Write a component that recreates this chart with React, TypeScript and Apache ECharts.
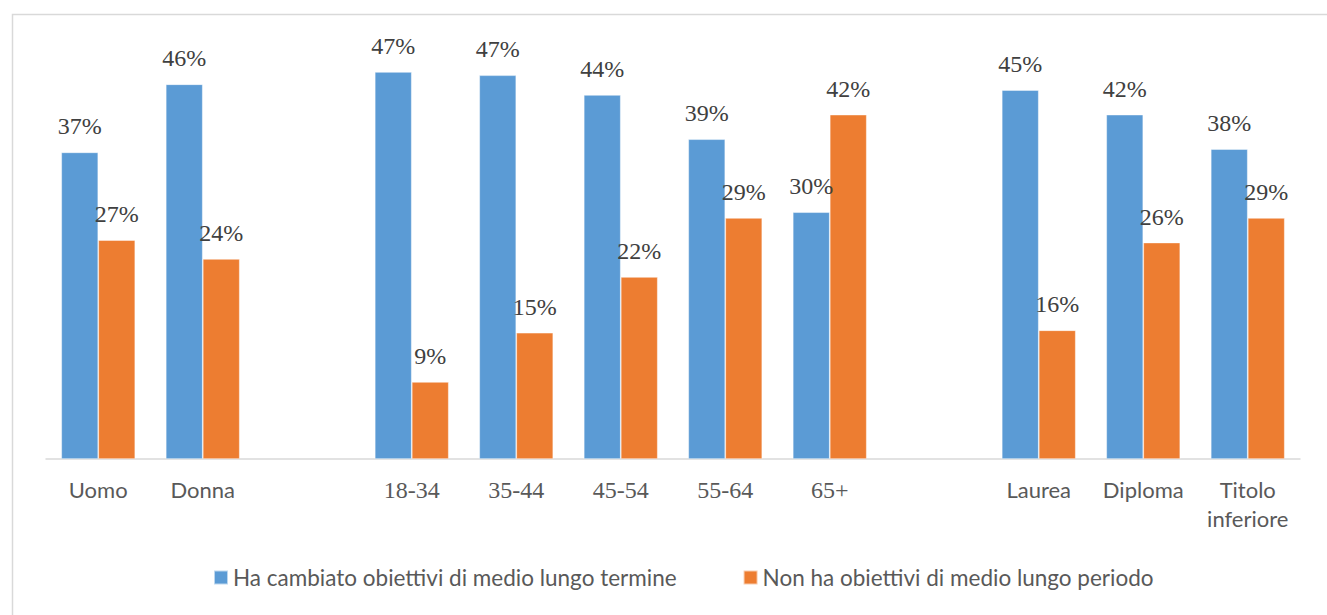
import React, { useEffect, useRef } from "react";
import * as echarts from "echarts";

const categories = ["Uomo", "Donna", "", "18-34", "35-44", "45-54", "55-64", "65+", " ", "Laurea", "Diploma", "Titolo\ninferiore"];
const serifCats = ["18-34", "35-44", "45-54", "55-64", "65+"];
const seriesNames = ["Ha cambiato obiettivi di medio lungo termine", "Non ha obiettivi di medio lungo periodo"];
const changedGoals: (number | string)[] = [37.4, 45.7, "-", 47.2, 46.8, 44.4, 39.0, 30.1, "-", 45.0, 42.0, 37.8];
const noGoals: (number | string)[] = [26.7, 24.4, "-", 9.4, 15.4, 22.2, 29.4, 42.0, "-", 15.7, 26.4, 29.4];
const colors = ["#5B9BD5", "#ED7D31"];

const SERIF = "'Liberation Serif', 'Times New Roman', serif";

export default function App() {
  const ref = useRef<HTMLDivElement>(null);
  useEffect(() => {
    const chart = echarts.init(ref.current!, undefined, { renderer: "svg" });
    const makeLabel = () => ({
      show: true,
      position: "top" as const,
      distance: 14,
      formatter: (p: any) => "{v|" + Math.round(p.value) + "%}",
      rich: {
        v: { color: "#404040", fontFamily: SERIF, fontSize: 24 },
      },
    });
    chart.setOption({
      animation: false,
      backgroundColor: "#fff",
      graphic: [
        {
          type: "rect",
          shape: { x: 12.5, y: 14.5, width: 2000, height: 2000 },
          style: { fill: "none", stroke: "#d9d9d9", lineWidth: 1.5 },
          silent: true,
        },
      ],
      grid: { left: 46, right: 27, top: 49, bottom: 156 },
      legend: {
        left: 208,
        top: 561,
        itemWidth: 14,
        itemHeight: 14,
        itemGap: 66,
        icon: "rect",
        textStyle: { color: "#595959", fontFamily: "Lato", fontSize: 22.5 },
        data: seriesNames,
      },
      xAxis: {
        type: "category",
        data: categories,
        axisLine: { lineStyle: { color: "#d9d9d9", width: 1.5 } },
        axisTick: { show: false },
        axisLabel: {
          interval: 0,
          margin: 16,
          formatter: (v: string) => {
            if (serifCats.includes(v)) return "{t|" + v + "}";
            return v
              .split("\n")
              .map((s) => "{s|" + s + "}")
              .join("\n");
          },
          rich: {
            s: { fontFamily: "Lato", fontSize: 22, color: "#595959", lineHeight: 29 },
            t: { fontFamily: SERIF, fontSize: 24, color: "#595959", lineHeight: 29 },
          },
        },
      },
      yAxis: {
        type: "value",
        min: 0,
        max: 50,
        show: false,
        splitLine: { show: false },
      },
      series: [
        {
          name: seriesNames[0],
          type: "bar",
          data: changedGoals,
          barWidth: 37,
          barGap: "0%",
          itemStyle: { color: colors[0], borderColor: "rgba(255,255,255,0.6)", borderWidth: 0.75 },
          label: makeLabel(),
        },
        {
          name: seriesNames[1],
          type: "bar",
          data: noGoals,
          barWidth: 37,
          barGap: "0%",
          itemStyle: { color: colors[1], borderColor: "rgba(255,255,255,0.6)", borderWidth: 0.75 },
          label: makeLabel(),
        },
      ],
    });
    return () => chart.dispose();
  }, []);
  return (
    <div
      ref={ref}
      style={{ position: "fixed", left: 0, top: 0, width: 1327, height: 615, overflow: "hidden" }}
    />
  );
}
